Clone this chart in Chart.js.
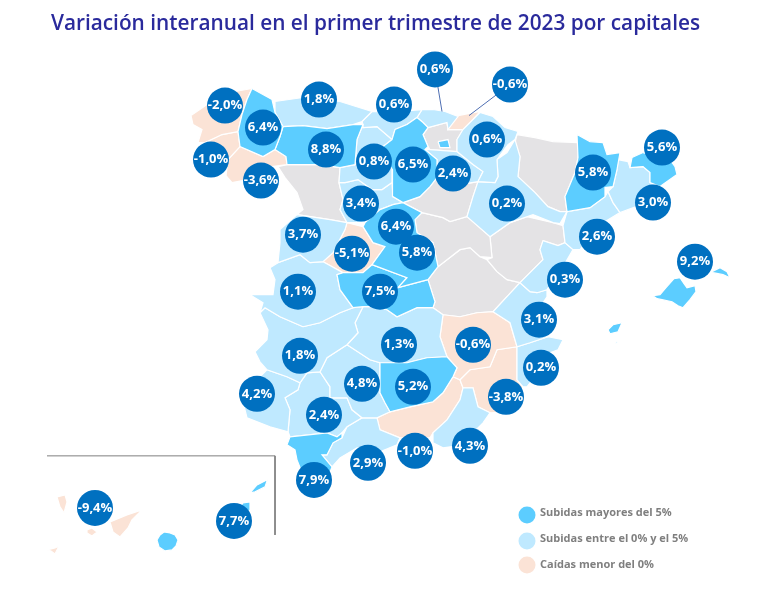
<!DOCTYPE html>
<html lang="es">
<head>
<meta charset="UTF-8">
<title>Variación interanual por capitales</title>
<script src="https://cdn.jsdelivr.net/npm/chart.js"></script>
<style>
    html, body { margin: 0; padding: 0; background: #ffffff; }
    canvas { display: block; }
</style>
</head>
<body>
<canvas id="mapa" width="768" height="599"></canvas>
<script>
// Contornos de provincias, en unidades del mapa
const coruna = [[191,116],[210,103],[235,92],[252,89],[247,100],[242,115],[238,132],[222,135],[205,143],[198,143],[202,130],[193,125]];
const pontevedra = [[205,143],[222,135],[238,132],[240,147],[228,160],[225,172],[205,176],[200,165]];
const ourense = [[240,147],[263,157],[275,150],[286,157],[287,165],[272,167],[262,172],[248,180],[232,183],[226,176],[228,160]];
const lugo = [[252,89],[272,100],[275,113],[283,127],[280,137],[275,150],[263,157],[240,147],[238,132],[242,115],[247,100]];
const asturias = [[275,102],[303,98],[340,102],[372,112],[362,122],[353,125],[327,129],[303,126],[283,127],[275,113]];
const leon = [[283,127],[303,126],[327,129],[353,125],[363,125],[357,140],[355,165],[340,168],[320,165],[287,165],[286,157],[275,150],[280,137]];
const cantabria = [[363,125],[362,122],[372,112],[397,112],[422,110],[417,118],[407,125],[395,130],[392,140],[377,127],[363,128]];
const palencia = [[363,125],[363,128],[377,127],[392,140],[383,147],[380,153],[360,160],[355,165],[357,140]];
const burgos = [[395,130],[407,125],[417,118],[423,123],[428,128],[423,135],[428,147],[425,150],[437,160],[437,178],[430,187],[420,197],[403,203],[393,197],[392,183],[393,170],[380,153],[383,147],[392,140]];
const valladolid = [[340,168],[355,165],[360,160],[380,153],[393,170],[392,183],[382,190],[372,190],[358,180],[345,183],[339,183]];
const segovia = [[339,183],[345,183],[358,180],[372,190],[382,190],[392,183],[393,197],[403,203],[393,205],[380,210],[365,223],[347,223],[340,210],[343,200]];
const zamora = [[278,167],[287,165],[320,165],[340,168],[339,183],[343,200],[340,210],[347,223],[330,220],[297,215],[303,210],[297,193],[285,178]];
const bizkaia = [[422,110],[433,110],[445,112],[458,117],[448,130],[447,123],[428,128],[423,123],[417,118]];
const gipuzkoa = [[453,117],[480,112],[470,123],[463,130],[448,130]];
const alava = [[428,128],[447,123],[448,130],[463,130],[457,140],[457,152],[430,150],[428,147],[423,135]];
const trevino = [[438,142],[448,140],[450,148],[440,148]];
const navarra = [[480,113],[493,117],[505,128],[518,132],[515,140],[508,145],[497,160],[498,177],[495,183],[478,182],[483,172],[473,165],[457,152],[457,140],[463,130],[470,123]];
const rioja = [[430,150],[457,152],[473,165],[483,172],[478,182],[460,185],[437,178],[437,160],[425,150]];
const soria = [[437,178],[460,185],[478,182],[473,197],[467,217],[450,222],[443,218],[422,213],[403,203],[420,197],[430,187]];
const guadalajara = [[415,220],[422,213],[443,218],[450,222],[467,217],[490,237],[492,258],[480,257],[470,248],[460,250],[438,267],[433,243],[417,233]];
const teruel = [[490,237],[510,223],[527,217],[553,223],[563,226],[565,243],[558,246],[543,241],[540,250],[543,260],[533,270],[520,283],[507,280],[497,272],[487,260],[492,258]];
const cuenca = [[438,267],[460,250],[470,248],[480,257],[487,260],[497,272],[507,280],[520,283],[507,297],[493,312],[477,313],[460,317],[443,315],[433,308],[435,302],[428,280]];
const zaragoza = [[497,160],[507,153],[515,140],[520,157],[518,177],[535,193],[548,207],[560,212],[567,212],[560,224],[553,223],[533,215],[510,223],[490,237],[467,217],[473,197],[478,182],[495,183],[498,177]];
const huesca = [[517,135],[535,138],[553,142],[578,143],[578,158],[575,173],[565,197],[567,212],[560,212],[548,207],[535,193],[518,177],[520,157],[515,143]];
const lleida = [[577,135],[590,142],[603,143],[607,155],[620,153],[617,170],[613,187],[605,188],[605,197],[590,208],[567,212],[565,197],[575,173],[578,158]];
const girona = [[632,158],[643,153],[670,160],[675,167],[677,175],[660,187],[650,183],[650,173],[643,167],[630,168]];
const barcelona = [[618,160],[628,162],[630,168],[643,167],[650,173],[650,183],[660,187],[647,203],[620,213],[613,203],[608,192],[613,187],[617,170]];
const tarragona = [[567,212],[590,208],[605,197],[608,192],[613,203],[620,213],[600,225],[590,237],[580,250],[573,250],[565,243],[563,226]];
const castellon = [[543,241],[558,246],[565,243],[573,250],[563,267],[547,290],[537,293],[530,292],[520,283],[533,270],[543,260],[540,250]];
const valencia = [[520,283],[530,292],[537,293],[547,290],[547,297],[535,315],[530,330],[548,337],[530,343],[517,347],[510,323],[493,312],[507,297]];
const alicante = [[517,347],[530,343],[548,337],[563,340],[558,350],[550,353],[540,370],[527,387],[523,387],[517,380],[517,350]];
const salamanca = [[280,230],[297,215],[330,220],[347,223],[345,230],[333,253],[323,262],[310,263],[300,255],[278,263],[280,243]];
const avila = [[347,223],[363,227],[373,243],[385,247],[372,265],[363,273],[343,273],[323,262],[333,253],[345,230]];
const madrid = [[365,223],[380,210],[393,205],[403,203],[422,213],[415,220],[417,233],[433,243],[438,267],[428,280],[398,288],[407,278],[372,265],[385,247],[373,243],[363,227]];
const toledo = [[343,273],[363,273],[372,265],[407,278],[398,288],[428,280],[435,302],[433,308],[417,308],[397,317],[387,310],[377,307],[363,307],[353,308],[340,290],[337,275]];
const caceres = [[270,268],[278,263],[300,255],[310,263],[323,262],[343,273],[337,275],[340,290],[353,308],[340,313],[320,323],[303,327],[280,317],[265,308],[260,313],[263,303],[250,295],[273,295],[275,280]];
const badajoz = [[260,313],[265,308],[280,317],[303,327],[320,323],[340,313],[353,308],[363,307],[355,323],[358,333],[347,345],[327,358],[320,372],[307,373],[300,383],[287,377],[267,370],[260,362],[255,352],[267,340],[268,330]];
const ciudadReal = [[363,307],[377,307],[387,310],[397,317],[417,308],[433,308],[443,315],[440,337],[447,357],[427,358],[407,363],[380,363],[370,360],[347,345],[358,333],[355,323]];
const albacete = [[443,315],[460,317],[477,313],[493,312],[510,323],[517,347],[497,350],[490,367],[470,370],[460,380],[453,377],[457,368],[447,357],[440,337]];
const murcia = [[497,350],[517,347],[517,380],[523,387],[510,412],[490,413],[478,407],[473,388],[463,388],[460,380],[470,370],[490,367]];
const jaen = [[380,363],[407,363],[427,358],[447,357],[457,368],[453,377],[443,393],[433,402],[410,407],[390,412],[385,403],[380,393]];
const cordoba = [[327,358],[347,345],[370,360],[380,363],[380,393],[385,403],[390,412],[377,418],[362,418],[352,410],[347,398],[330,398],[330,387],[320,372]];
const huelva = [[267,370],[287,377],[300,383],[298,390],[285,398],[290,410],[288,432],[270,427],[247,418],[245,410],[240,393],[257,380]];
const sevilla = [[285,398],[298,390],[300,383],[307,373],[320,372],[330,387],[330,398],[347,398],[352,410],[362,418],[347,427],[342,433],[337,437],[327,433],[290,437],[288,432],[290,410]];
const cadiz = [[290,437],[327,433],[337,437],[342,433],[342,438],[333,443],[327,455],[322,455],[332,467],[330,472],[315,490],[305,480],[297,460],[295,450],[287,445]];
const malaga = [[342,438],[347,427],[362,418],[377,418],[380,430],[400,438],[397,445],[380,452],[357,448],[340,458],[332,467],[322,455],[327,455],[333,443]];
const granada = [[460,380],[463,388],[460,400],[447,420],[433,433],[430,438],[400,438],[380,430],[377,418],[390,412],[410,407],[433,402],[443,393],[453,377]];
const almeria = [[463,388],[473,388],[478,407],[490,413],[483,423],[473,433],[465,445],[443,448],[433,443],[433,433],[447,420],[460,400]];
const mallorca = [[653,296],[660,295],[666,288],[674,279],[680,278],[684,284],[687,288],[695,286],[696,292],[690,300],[683,308],[678,306],[672,302],[662,300],[657,299]];
const menorca = [[712,272],[720,268],[727,272],[730,278],[723,275],[713,273]];
const ibiza = [[608,330],[613,325],[622,323],[618,332],[610,334]];
const formentera = [[615,343],[617,342],[618,345]];
const laPalma = [[57,497],[65,495],[67,502],[64,513],[60,507]];
const tenerife = [[110,522],[127,515],[142,510],[132,520],[128,528],[120,537],[113,532]];
const gomera = [[87,530],[92,528],[97,532],[92,536],[87,533]];
const hierro = [[47,550],[55,548],[59,546],[55,554],[51,551]];
const granCanaria = [[157,540],[160,535],[164,532],[170,533],[175,535],[178,540],[176,546],[172,550],[165,551],[159,547]];
const lanzarote = [[250,493],[257,485],[267,480],[268,478],[265,487],[255,492]];
const fuerteventura = [[243,503],[250,502],[250,510],[222,535],[220,533]];

const grupoAlto = [lugo, leon, burgos, madrid, toledo, lleida, girona, jaen, cadiz, mallorca, menorca, ibiza, formentera, granCanaria, lanzarote, fuerteventura];
const grupoMedio = [asturias, cantabria, palencia, valladolid, segovia, bizkaia, navarra, rioja, zaragoza, barcelona, tarragona, castellon, valencia, alicante, salamanca, caceres, badajoz, ciudadReal, cordoba, huelva, sevilla, malaga, almeria];
const grupoCaidas = [coruna, pontevedra, ourense, gipuzkoa, avila, albacete, murcia, granada, laPalma, tenerife, gomera, hierro];
const grupoSinDato = [zamora, alava, soria, guadalajara, teruel, cuenca, huesca];

// Etiquetas de las capitales y su posicion en el mapa
const etiquetas = ['-2,0%','6,4%','1,8%','0,6%','0,6%','-0,6%','0,6%','5,6%','-1,0%','8,8%','0,8%','6,5%','2,4%','5,8%','3,0%','-3,6%','3,4%','0,2%','6,4%','3,7%','-5,1%','5,8%','2,6%','9,2%','0,3%','1,1%','7,5%','3,1%','1,3%','-0,6%','1,8%','0,2%','4,8%','5,2%','-3,8%','4,2%','2,4%','-1,0%','4,3%','2,9%','7,9%','-9,4%','7,7%'];
const capitalX = [225,263,319,394,435,510,487,662,211,326,374,413,453,593,653,261,361,507,396,303,352,417,597,695,565,298,380,539,399,473,300,541,362,413,506,257,324,415,470,368,314,95,234];
const capitalY = [106,128,100,105,70,85,140,148,160,150,162,165,174,173,203,181,204,204,227,235,254,253,237,262,280,292,292,320,345,345,356,368,384,387,397,394,415,451,446,463,480,508,521];

const guiaVizcaya = [[435,70],[442,112]];
const guiaGuipuzcoa = [[510,85],[469,116]];
const marcoCanarias = [[47,456],[275,456],[275,535]];

const leyendaTextos = ['Subidas mayores del 5%', 'Subidas entre el 0% y el 5%', 'Caídas menor del 0%'];
const leyendaX = [527, 527, 527];
const leyendaY = [515, 541, 565];
const leyendaTextoY = [513, 539, 565];

const colorAlto = '#5ccdff';
const colorMedio = '#bfe9ff';
const colorCaidas = '#fbe3d6';
const colorSinDato = '#e4e3e5';
const colorBurbuja = '#0070c0';
const colorGuia = '#4f6fb3';

const TITULO = 'Variación interanual en el primer trimestre de 2023 por capitales';
const ALTO_TITULO = 37.5;

function provincia(puntos, color, orden) {
    return {
        type: 'scatter',
        data: puntos.concat([puntos[0]]).map(p => ({ x: p[0], y: p[1] })),
        showLine: true,
        fill: 'shape',
        backgroundColor: color,
        borderColor: '#ffffff',
        borderWidth: 1.2,
        pointRadius: 0,
        tension: 0,
        order: orden
    };
}

function linea(puntos, color, ancho) {
    return {
        type: 'scatter',
        data: puntos.map(p => ({ x: p[0], y: p[1] })),
        showLine: true,
        fill: false,
        borderColor: color,
        borderWidth: ancho,
        pointRadius: 0,
        order: 2
    };
}

const datasets = [
    {
        type: 'bubble',
        data: etiquetas.map((e, i) => ({ x: capitalX[i], y: capitalY[i], r: 18 })),
        backgroundColor: colorBurbuja,
        borderColor: colorBurbuja,
        borderWidth: 0,
        order: 0
    },
    {
        type: 'bubble',
        data: leyendaX.map((x, i) => ({ x: x, y: leyendaY[i], r: 8.5 })),
        backgroundColor: [colorAlto, colorMedio, colorCaidas],
        borderWidth: 0,
        order: 1
    },
    linea(guiaVizcaya, colorGuia, 1),
    linea(guiaGuipuzcoa, colorGuia, 1),
    linea(marcoCanarias, '#7f7f7f', 1),
    provincia(trevino, colorAlto, 4)
];
grupoAlto.forEach(p => datasets.push(provincia(p, colorAlto, 5)));
grupoMedio.forEach(p => datasets.push(provincia(p, colorMedio, 5)));
grupoCaidas.forEach(p => datasets.push(provincia(p, colorCaidas, 5)));
grupoSinDato.forEach(p => datasets.push(provincia(p, colorSinDato, 5)));

const textos = {
    id: 'textos',
    afterDatasetsDraw(chart) {
        const { ctx, scales } = chart;
        ctx.save();
        ctx.textBaseline = 'middle';
        ctx.textAlign = 'center';
        ctx.fillStyle = '#ffffff';
        ctx.font = '700 13px "Open Sans"';
        etiquetas.forEach((e, i) => {
            ctx.fillText(e, scales.x.getPixelForValue(capitalX[i]), scales.y.getPixelForValue(capitalY[i]));
        });
        ctx.textAlign = 'left';
        ctx.fillStyle = '#7f7f7f';
        ctx.font = '700 11px "Open Sans"';
        leyendaTextos.forEach((t, i) => {
            ctx.fillText(t, scales.x.getPixelForValue(leyendaX[i] + 13), scales.y.getPixelForValue(leyendaTextoY[i]));
        });
        ctx.restore();
    }
};

new Chart(document.getElementById('mapa'), {
    data: { datasets: datasets },
    plugins: [textos],
    options: {
        responsive: false,
        animation: false,
        layout: { autoPadding: false, padding: { left: 0, right: 17, top: 0, bottom: 0 } },
        scales: {
            x: { type: 'linear', display: false, min: 0, max: 751 },
            y: { type: 'linear', display: false, min: ALTO_TITULO, max: 599, reverse: true }
        },
        plugins: {
            legend: { display: false },
            tooltip: { enabled: false },
            title: {
                display: true,
                text: TITULO,
                fullSize: false,
                color: '#2a2a9c',
                font: { family: '"Open Sans"', size: 20.8, weight: '600' },
                padding: { top: 12, bottom: 0 }
            }
        }
    }
});
</script>
</body>
</html>
